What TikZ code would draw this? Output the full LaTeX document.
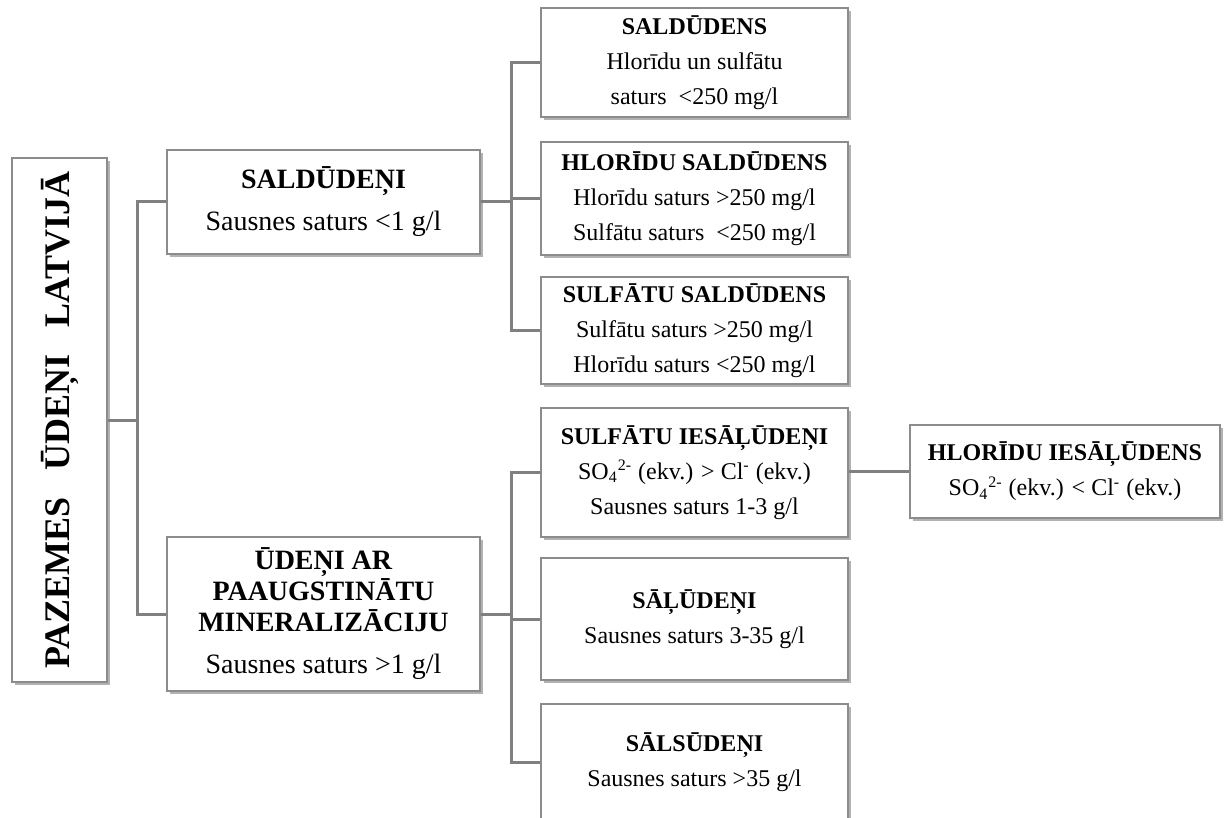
\documentclass[tikz,border=0pt]{standalone}
\usepackage{fontspec}
\setmainfont{Liberation Serif}
\usepackage{tikz}
\usetikzlibrary{calc, positioning, shadows}
\definecolor{lineGray}{gray}{0.5}
\definecolor{borderGray}{gray}{0.55}
\definecolor{shadowGray}{gray}{0.45}

\begin{document}
\begin{tikzpicture}[x=0.5pt, y=-0.5pt,
    box/.style={draw=borderGray, line width=1pt, fill=white, inner sep=0pt, align=center,
        drop shadow={shadow xshift=1.5pt, shadow yshift=-1.5pt, fill=shadowGray, opacity=0.55}},
    rbox/.style={box, minimum width=153.5pt, font=\fontsize{12}{17.5}\selectfont},
    lbox/.style={box, minimum width=156.5pt, font=\fontsize{14}{21}\selectfont},
    conn/.style={draw=lineGray, line width=1.5pt}]
    \useasboundingbox (0,0) rectangle (1226,818);
    \clip (0,0) rectangle (1226,818);

    % Root
    \node[box, minimum width=47.5pt, minimum height=262pt] (root) at (59.5,420)
        {\rotatebox{90}{\fontsize{18}{20}\selectfont\bfseries PAZEMES\hspace{0.75em}ŪDEŅI\hspace{0.75em}LATVIJĀ}};

    % Second level
    \node[lbox, minimum height=52pt] (sald) at (323.5,202)
        {\textbf{SALDŪDEŅI}\\Sausnes saturs <1 g/l};
    \node[lbox, minimum height=77pt] (aug) at (323.5,614)
        {\textbf{ŪDEŅI AR}\\[-5.5pt]\textbf{PAAUGSTINĀTU}\\[-5.5pt]\textbf{MINERALIZĀCIJU}\\
        Sausnes saturs >1 g/l};

    % Fresh water types
    \node[rbox, minimum height=54.5pt] (b1) at (694.5,62.5)
        {\textbf{SALDŪDENS}\\Hlorīdu un sulfātu\\saturs~ <250 mg/l};
    \node[rbox, minimum height=56.5pt] (b2) at (694.5,198.5)
        {\textbf{HLORĪDU SALDŪDENS}\\Hlorīdu saturs >250 mg/l\\Sulfātu saturs~ <250 mg/l};
    \node[rbox, minimum height=53.5pt] (b3) at (694.5,330.5)
        {\textbf{SULFĀTU SALDŪDENS}\\Sulfātu saturs >250 mg/l\\Hlorīdu saturs <250 mg/l};

    % Mineralised water types
    \node[rbox, minimum height=64.5pt] (b4) at (694.5,472.5)
        {\textbf{SULFĀTU IESĀĻŪDEŅI}\\SO\textsubscript{4}\textsuperscript{2-} (ekv.) > Cl\textsuperscript{-} (ekv.)\\Sausnes saturs 1-3 g/l};
    \node[rbox, minimum height=61pt] (b5) at (694.5,619)
        {\textbf{SĀĻŪDEŅI}\\Sausnes saturs 3-35 g/l};
    \node[rbox, minimum height=58pt] (b6) at (694.5,762)
        {\textbf{SĀLSŪDEŅI}\\Sausnes saturs >35 g/l};
    \node[box, minimum width=155pt, minimum height=46.5pt, font=\fontsize{12}{17.5}\selectfont] (r4) at (1065,471.5)
        {\textbf{HLORĪDU IESĀĻŪDENS}\\SO\textsubscript{4}\textsuperscript{2-} (ekv.) < Cl\textsuperscript{-} (ekv.)};

    % Connectors
    \coordinate (fork0) at (137,420);
    \coordinate (forkA) at (511,202);
    \coordinate (forkB) at (511,614);
    \draw[conn] (root.east) -- (fork0);
    \draw[conn] (sald.west) -| (fork0) |- (aug.west);
    \draw[conn] (sald.east) -- (forkA);
    \draw[conn] (b1.west) -| (forkA) |- (b3.west);
    \draw[conn] (b2.west) -- (b2.west -| forkA);
    \draw[conn] (aug.east) -- (forkB);
    \draw[conn] (b4.west) -| (forkB) |- (b6.west);
    \draw[conn] (b5.west) -- (b5.west -| forkB);
    \draw[conn] (r4.west) -- (r4.west -| b4.east);
\end{tikzpicture}
\end{document}
